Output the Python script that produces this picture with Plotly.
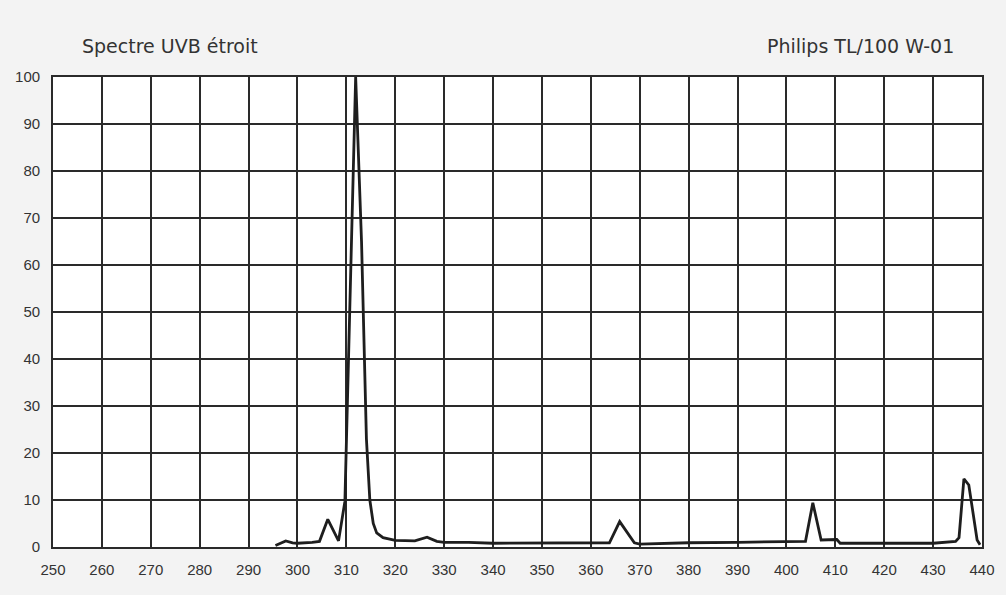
import plotly.graph_objects as go

# Wavelength (nm) and relative intensity (%)
wavelength = [295.5, 297.6, 299, 300, 303, 304.5, 306.2, 308.4, 309.7, 310.3, 311.1, 311.9,
              313.1, 314.1, 314.8, 315.5, 316.2, 317.5, 320, 324, 326.5, 328.5, 330, 335,
              340, 350, 360, 363.8, 365.9, 368.9, 370, 380, 390, 400, 403.9, 405.4, 407.1,
              410.3, 411, 420, 430, 434.6, 435.3, 436.3, 437.3, 439, 439.6]
intensity = [0.3, 1.3, 0.9, 0.8, 1.0, 1.2, 5.9, 1.3, 9.7, 35, 65, 100,
             65, 23, 10, 5, 3, 2, 1.4, 1.3, 2.1, 1.2, 1.0, 1.0,
             0.8, 0.8, 0.8, 0.9, 5.4, 0.9, 0.6, 0.9, 1.0, 1.1, 1.2, 9.4, 1.5,
             1.6, 0.8, 0.8, 0.8, 1.2, 2.0, 14.5, 13.2, 1.5, 0.5]

x_ticks = list(range(250, 441, 10))
y_ticks = list(range(0, 101, 10))
title_left = "Spectre UVB étroit"
title_right = "Philips TL/100 W-01"

FONT = "Liberation Sans, Arial, sans-serif"
TFONT = "DejaVu Sans, Liberation Sans, sans-serif"

fig = go.Figure()
fig.add_trace(go.Scatter(x=wavelength, y=intensity, mode="lines",
                         line=dict(color="#1e1e1e", width=2.8), showlegend=False,
                         hoverinfo="x+y"))

axis_common = dict(showgrid=True, gridcolor="#2a2a2a", gridwidth=1.6,
                   showline=True, linecolor="#2a2a2a", linewidth=1.8, mirror=True,
                   zeroline=False, ticks="",
                   tickfont=dict(family=FONT, size=15, color="#333333"))

fig.update_xaxes(range=[250, 440], tickvals=x_ticks, ticktext=[str(v) for v in x_ticks],
                 ticklabelstandoff=8, **axis_common)
fig.update_yaxes(range=[0, 100], tickvals=y_ticks, ticktext=[str(v) for v in y_ticks],
                 ticklabelstandoff=8, **axis_common)

fig.add_annotation(text=title_left, xref="paper", yref="paper", x=0.029, y=1.066,
                   xanchor="left", yanchor="middle", showarrow=False,
                   font=dict(family=TFONT, size=19, color="#333333"))
fig.add_annotation(text=title_right, xref="paper", yref="paper", x=0.972, y=1.066,
                   xanchor="right", yanchor="middle", showarrow=False,
                   font=dict(family=TFONT, size=19, color="#333333"))

fig.update_layout(width=1006, height=595,
                  margin=dict(l=53, r=24, t=77, b=48),
                  paper_bgcolor="#f3f3f3", plot_bgcolor="#ffffff")

fig.write_html("out.html", config={"displayModeBar": False},
               post_script="document.body.style.margin='0';document.body.style.background='#f3f3f3';")
